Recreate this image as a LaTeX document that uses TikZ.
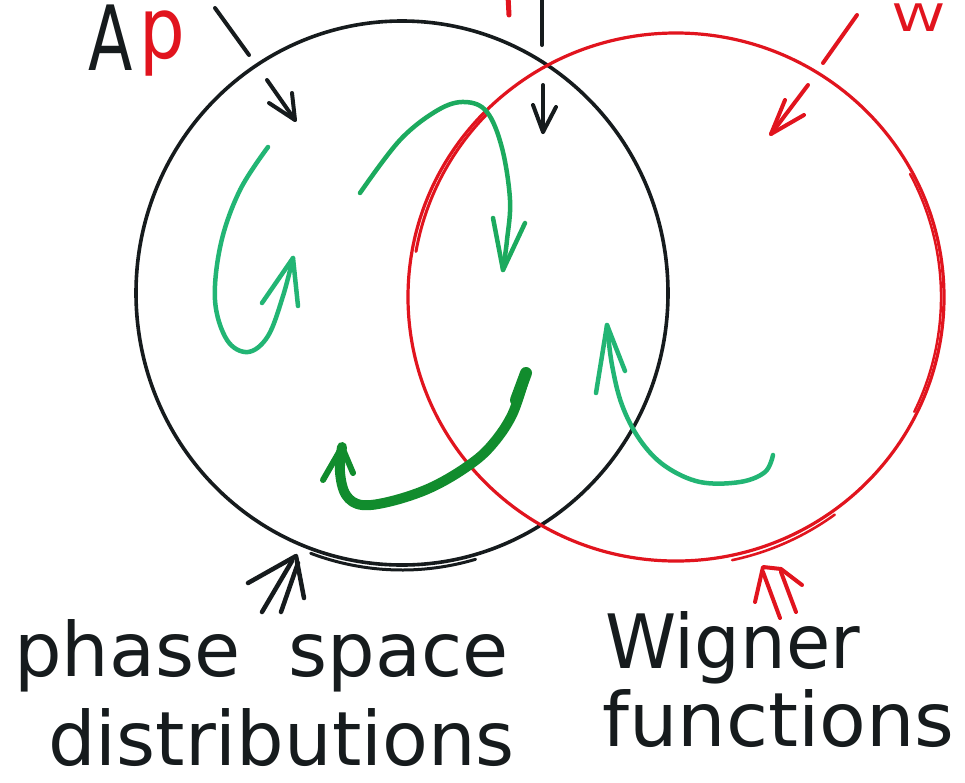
\documentclass[tikz,border=0pt]{standalone}
\usepackage{fontspec}
\newfontfamily\hand{DejaVu Sans}
\usetikzlibrary{shapes.geometric}
\definecolor{ink}{HTML}{161B1D}
\definecolor{redink}{HTML}{E1141E}
\definecolor{tealink}{HTML}{22B574}
\definecolor{greenink}{HTML}{1CAA5E}
\definecolor{darkgreenink}{HTML}{118C2D}
\begin{document}
\begin{tikzpicture}[x=1pt,y=-1pt,line cap=round,line join=round,
  blackpen/.style={draw=ink,line width=4pt},
  redpen/.style={draw=redink,line width=3.6pt},
  tealpen/.style={draw=tealink,line width=4.5pt},
  greenpen/.style={draw=greenink,line width=4.5pt},
  thickgreen/.style={draw=darkgreenink,line width=10pt},
  ring/.style={ellipse,inner sep=0pt,fill=none},
  label/.style={font=\hand\fontsize{75}{75}\selectfont,text=ink,inner sep=0pt,anchor=base west},
  toplabel/.style={inner sep=0pt,anchor=base west}]
\useasboundingbox (0,0) rectangle (965,782);
\fill[white] (0,0) rectangle (965,782);

% circles
\node[ring,draw=ink,line width=3.6pt,minimum width=532pt,minimum height=544pt] (bc) at (402,293) {};
\node[ring,draw=redink,line width=3.2pt,minimum width=536pt,minimum height=528pt] (rc) at (676,297) {};
% doubled strokes of the pen
\draw[ink,line width=3pt] (bc.center) ++(110:267 and 277) arc[start angle=110,end angle=74,x radius=267,y radius=277];
\draw[redink,line width=2.6pt] (rc.center) ++(78:270 and 269) arc[start angle=78,end angle=54,x radius=270,y radius=269];
\draw[redink,line width=3pt] (rc.center) ++(190:264 and 262) arc[start angle=190,end angle=224,x radius=264,y radius=262];
\draw[redink,line width=2.4pt] (rc.center) ++(-28:265 and 262) arc[start angle=-28,end angle=26,x radius=265,y radius=262];

% top letters
\node[toplabel,font=\hand\fontsize{90}{90}\selectfont,text=ink] (lA) at (88,70) {\scalebox{0.72}[1]{A}};
\node[toplabel,font=\hand\fontsize{60}{60}\selectfont,text=redink] (lp) at (139,58) {\scalebox{1.2}[1.42]{p}};
\node[toplabel,font=\hand\fontsize{38}{38}\selectfont,text=redink] (lW) at (892,31) {\scalebox{1.4}[1]{W}};
\coordinate (m1) at (508,-4); \coordinate (m2) at (509,15);
\draw[redink,line width=5pt] (m1) -- (m2);

% pointer A p
\coordinate (pa1) at (215,8); \coordinate (pa2) at (249,55);
\coordinate (pa3) at (267,80); \coordinate (pat) at (295,120);
\coordinate (pab1) at (269,103); \coordinate (pab2) at (292,93);
\draw[blackpen] (pa1) -- (pa2);
\draw[blackpen] (pa3) -- (pat);
\draw[blackpen] (pab1) -- (pat) -- (pab2);
% pointer middle
\coordinate (pm1) at (542,-4); \coordinate (pm2) at (542,45);
\coordinate (pm3) at (543,85); \coordinate (pmt) at (543,132);
\coordinate (pmb1) at (533,105); \coordinate (pmb2) at (556,107);
\draw[blackpen] (pm1) -- (pm2);
\draw[blackpen] (pm3) -- (pmt);
\draw[blackpen] (pmb1) -- (pmt) -- (pmb2);
% pointer W
\coordinate (pw1) at (857,15); \coordinate (pw2) at (823,63);
\coordinate (pw3) at (808,85); \coordinate (pwt) at (771,134);
\coordinate (pwb1) at (785,100); \coordinate (pwb2) at (804,115);
\draw[redpen,line width=4pt] (pw1) -- (pw2);
\draw[redpen,line width=4pt] (pw3) -- (pwt);
\draw[redpen,line width=4pt] (pwb1) -- (pwt) -- (pwb2);

% green arrow 1 (left loop)
\coordinate (g1s) at (268,147); \coordinate (g1t) at (293,258);
\draw[tealpen] plot[smooth,tension=0.6] coordinates {(g1s) (240,190) (221,243) (215,300) (227,340) (248,352) (268,336) (283,296) (g1t)};
\draw[tealpen] (262,303) -- (g1t) -- (298,306);
% green arrow 2 (top middle)
\coordinate (g2s) at (360,193); \coordinate (g2t) at (503,270);
\draw[greenpen] plot[smooth,tension=0.6] coordinates {(g2s) (400,140) (438,110) (465,102) (487,112) (502,148) (510,200) (507,240) (g2t)};
\draw[greenpen] (493,218) -- (g2t) -- (525,223);
% green arrow 3 (thick, bottom)
\coordinate (g3s) at (526,373); \coordinate (g3t) at (342,447);
\draw[thickgreen,line width=12pt] (g3s) -- (516,400);
\draw[thickgreen] plot[smooth,tension=0.6] coordinates {(g3s) (512,415) (490,447) (465,468) (430,488) (392,501) (362,505) (346,495) (340,472) (g3t)};
\draw[thickgreen,line width=6pt] (323,480) -- (g3t) -- (353,473);
% green arrow 4 (bottom right)
\coordinate (g4s) at (773,455); \coordinate (g4t) at (607,325);
\draw[tealpen] plot[smooth,tension=0.6] coordinates {(g4s) (765,472) (740,482) (700,482) (665,466) (640,440) (622,405) (612,365) (g4t)};
\draw[tealpen] (596,393) -- (g4t) -- (625,371);

% double arrows under the circles
\coordinate (dbt) at (296,556);
\draw[blackpen,line width=4.5pt] (262,612) -- (292,561);
\draw[blackpen,line width=4.5pt] (281,612) -- (298,563);
\draw[blackpen,line width=4.5pt] (248,583) -- (dbt) -- (304,598);
\coordinate (drt) at (763,567);
\draw[redpen,line width=4pt] (780,618) -- (763,572);
\draw[redpen,line width=4pt] (796,612) -- (781,572);
\draw[redpen,line width=4pt] (755,602) -- (drt) -- (781,569) -- (802,585);

% labels
\node[label] (t1) at (14,676) {\spaceskip=48pt phase space};
\node[label] (t2) at (48,765) {distributions};
\node[label] (t3) at (605,668) {\scalebox{0.96}[1]{Wigner}};
\node[label] (t4) at (602,746) {\scalebox{1.02}[1]{functions}};
\end{tikzpicture}
\end{document}
